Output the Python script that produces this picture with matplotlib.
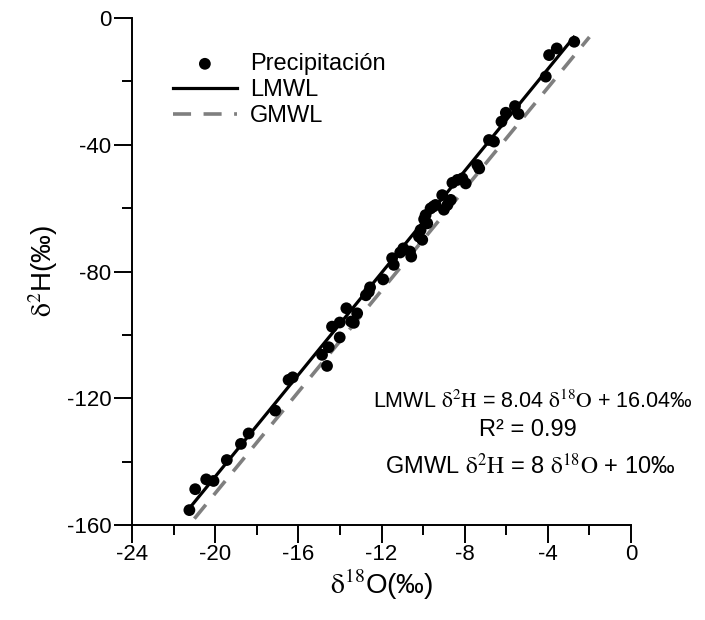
import matplotlib
matplotlib.use("Agg")
import matplotlib.pyplot as plt
import numpy as np
from matplotlib.ticker import MultipleLocator

plt.rcParams['font.family'] = ['Liberation Sans', 'DejaVu Sans']
plt.rcParams['mathtext.fontset'] = 'stix'
plt.rcParams['lines.scale_dashes'] = False
plt.rcParams['axes.unicode_minus'] = False

# Data (δ18O, δ2H) for precipitation samples
d18O = [-21.24, -20.96, -20.43, -20.08, -19.44, -18.76, -18.39, -17.11,
        -16.47, -16.27, -14.86, -14.54, -14.62, -14.38, -14.01, -14.01,
        -13.69, -13.46, -13.17, -13.33, -12.61, -12.55, -11.92, -11.49,
        -11.41, -10.95, -10.63, -10.57, -10.20, -10.04, -10.12, -9.80,
        -9.88, -9.64, -9.51, -9.40, -9.08, -8.83, -8.67, -8.59,
        -8.35, -8.11, -7.95, -7.39, -7.30, -6.83, -6.59, -6.23,
        -6.02, -5.58, -5.41, -4.10, -3.94, -3.57, -2.73, -9.95,
        -9.00, -12.75, -11.10]
d2H = [-155.3, -148.7, -145.6, -146.1, -139.5, -134.4, -131.1, -123.9,
       -114.2, -113.4, -106.3, -103.9, -109.8, -97.4, -96.1, -100.8,
       -91.6, -95.8, -93.2, -96.2, -86.4, -85.0, -82.5, -75.8,
       -77.9, -72.7, -73.7, -75.3, -69.0, -70.0, -66.9, -64.8,
       -62.2, -60.1, -59.5, -59.0, -55.9, -59.0, -57.4, -52.0,
       -51.1, -50.6, -52.2, -46.4, -47.5, -38.5, -39.0, -32.7,
       -29.9, -27.8, -30.3, -18.5, -11.7, -9.6, -7.5, -63.5,
       -60.5, -87.5, -74.0]

# Regression lines
lmwl_slope, lmwl_intercept = 8.04, 16.04
gmwl_slope, gmwl_intercept = 8.0, 10.0
lmwl_x = [-21.3, -2.75]
gmwl_x = [-21.0, -2.0]

xticks = [-24, -20, -16, -12, -8, -4, 0]
yticks = [0, -40, -80, -120, -160]

fig = plt.figure(figsize=(7.05, 6.2), dpi=100)
ax = fig.add_axes([132/705, 95/620, (631-132)/705, (525-18)/620])

lx = np.array(lmwl_x)
gx = np.array(gmwl_x)
ax.plot(gx, gmwl_slope*gx + gmwl_intercept, color='#7f7f7f', lw=2.6,
        dashes=(13, 9), label='GMWL', zorder=2)
ax.plot(lx, lmwl_slope*lx + lmwl_intercept, color='black', lw=2.3,
        label='LMWL', zorder=3)
ax.scatter(d18O, d2H, s=72, color='black', edgecolors='none',
           label='Precipitación', zorder=4)

ax.set_xlim(-24, 0)
ax.set_ylim(-160, 0)
ax.set_xticks(xticks)
ax.set_yticks(yticks)
ax.xaxis.set_minor_locator(MultipleLocator(2))
ax.yaxis.set_minor_locator(MultipleLocator(20))
for s in ['top', 'right']:
    ax.spines[s].set_visible(False)
for s in ['left', 'bottom']:
    ax.spines[s].set_linewidth(1.4)
ax.tick_params(which='major', direction='out', length=13, width=1.4,
               labelsize=16, pad=2)
ax.tick_params(which='minor', direction='out', length=7, width=1.4)
ax.tick_params(axis='x', which='major', pad=0.5)

ax.set_xlabel(r'$\mathrm{\delta^{18}}$O(‰)', fontsize=20, labelpad=2)
ax.set_ylabel(r'$\mathrm{\delta^{2}}$H(‰)', fontsize=20, labelpad=5)

h, l = ax.get_legend_handles_labels()
order = [2, 1, 0]
ax.legend([h[i] for i in order], [l[i] for i in order], loc='upper left',
          bbox_to_anchor=(173/705, 1-53/620), bbox_transform=fig.transFigure,
          frameon=False, fontsize=17, handlelength=2.7, handletextpad=0.55,
          labelspacing=0.17, borderpad=0, borderaxespad=0, scatterpoints=1)

ax.text(373/705, 1-402/620,
        r'LMWL $\mathrm{\delta^{2}H}$ = 8.04 $\mathrm{\delta^{18}O}$ + 16.04‰',
        transform=fig.transFigure, ha='left', va='center', fontsize=15.5)
ax.text(528/705, 1-430/620, 'R² = 0.99', transform=fig.transFigure,
        ha='center', va='center', fontsize=17)
ax.text(385/705, 1-466/620,
        r'GMWL $\mathrm{\delta^{2}H}$ = 8 $\mathrm{\delta^{18}O}$ + 10‰',
        transform=fig.transFigure, ha='left', va='center', fontsize=17)

fig.savefig('out.png', dpi=100)
